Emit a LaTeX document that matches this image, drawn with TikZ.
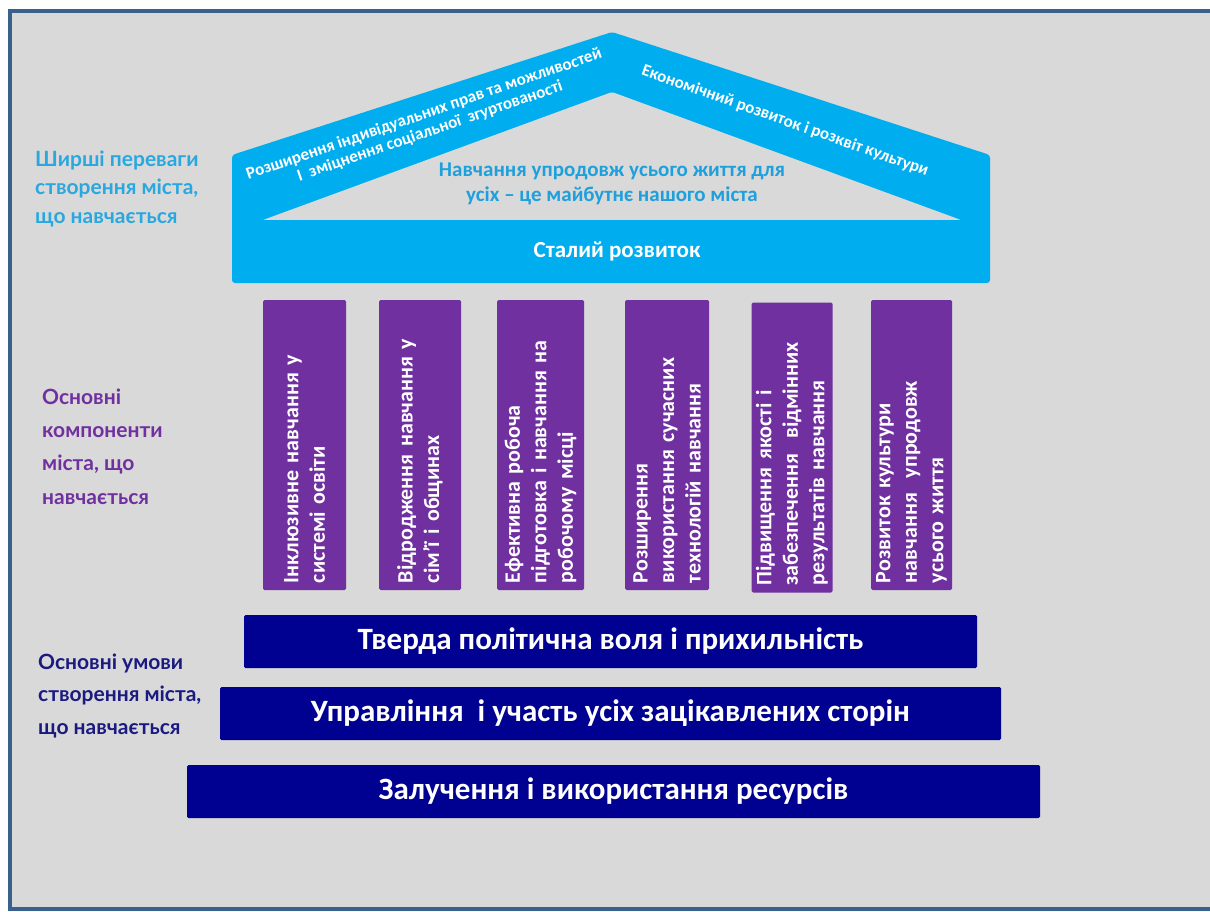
\documentclass[tikz,border=0pt]{standalone}
\usepackage{fontspec}
\setmainfont{Carlito}
\newfontfamily\labfont{Lato}
\definecolor{bggrey}{RGB}{217,217,217}
\definecolor{frameblue}{RGB}{58,96,140}
\definecolor{roofblue}{RGB}{0,174,239}
\definecolor{innerblue}{RGB}{30,160,220}
\definecolor{labblue}{RGB}{41,168,224}
\definecolor{colpurple}{RGB}{112,48,160}
\definecolor{barnavy}{RGB}{0,0,145}
\definecolor{labnavy}{RGB}{26,26,128}
\protected\def\colfontx{\bfseries\fontsize{22}{26.5}\selectfont\spaceskip=0.22em\relax}
\tikzset{
  lab/.style={font=\labfont\bfseries\fontsize{21}{29}\selectfont, align=left, anchor=base west, inner sep=0pt},
  colbox/.style={fill=colpurple, rounded corners=1.5pt, rotate=90, text=white,
     font=\colfontx, align=left, text width=276pt,
     inner xsep=7pt, inner ysep=0pt, minimum width=290pt},
  bar/.style={fill=barnavy, rounded corners=1.5pt, text=white, inner sep=0pt,
     font=\bfseries\fontsize{31}{34}\selectfont},
  rooftxt/.style={text=white, font=\bfseries\fontsize{17}{18}\selectfont, align=center, inner sep=0pt}
}
\begin{document}
\begin{tikzpicture}[x=1pt,y=-1pt]
\useasboundingbox (0,0) rectangle (1210,912);
\fill[white] (0,0) rectangle (1210,912);
\draw[line width=3.5pt, draw=frameblue, fill=bggrey] (10,11) rectangle (1260,909);
% roof
\fill[roofblue, rounded corners=3pt] (232,283) -- (232,155) -- (612,32) -- (990,155) -- (990,283) -- cycle;
\fill[bggrey, rounded corners=2pt] (263,220) -- (612,92) -- (961,220) -- cycle;
\node[rooftxt, rotate=19] (rightsL) at (427,123) {Розширення індивідуальних прав та можливостей\\І~~зміцнення соціальної~~згуртованості};
\node[rooftxt, rotate=-19.5] (econ) at (785,121) {Економічний розвиток і розквіт культури};
\node[text=innerblue, font=\bfseries\fontsize{21}{25}\selectfont, align=center, inner sep=0pt] (motto) at (612,184) {Навчання упродовж усього життя для\\усіх – це майбутнє нашого міста};
\node[text=white, font=\bfseries\fontsize{23}{26}\selectfont, inner sep=0pt] (sustain) at (617,251) {Сталий розвиток};
% left labels (anchor is baseline of the last line)
\node[lab, text=labblue] (benefits) at (35,224) {Ширші переваги\\створення міста,\\що навчається};
\node[lab, text=colpurple, font=\labfont\bfseries\fontsize{21}{33.3}\selectfont] (components) at (42,504) {Основні\\компоненти\\міста, що\\навчається};
\node[lab, text=labnavy, font=\labfont\bfseries\fontsize{21}{32.5}\selectfont] (conditions) at (38,734) {Основні умови\\створення міста,\\що навчається};
% columns
\node[colbox, minimum height=83pt] (c1) at (304.5,445) {Інклюзивне навчання у\\системі освіти};
\node[colbox, minimum height=82pt] (c2) at (420,445) {Відродження навчання у\\сім’ї і общинах};
\node[colbox, minimum height=87pt] (c3) at (540.5,445) {Ефективна робоча\\підготовка і навчання на\\робочому місці};
\node[colbox, minimum height=84pt] (c4) at (667,445) {Розширення\\використання сучасних\\технологій навчання};
\node[colbox, minimum height=81pt] (c5) at (792,447.5) {Підвищення якості і\\забезпечення~~відмінних\\результатів навчання};
\node[colbox, minimum height=81pt] (c6) at (911.5,445) {Розвиток культури\\навчання~~упродовж\\усього життя};
% bars
\node[bar, minimum width=733pt, minimum height=53pt] (b1) at (610.5,641.5) {Тверда політична воля і прихильність};
\node[bar, minimum width=781pt, minimum height=53pt] (b2) at (610.5,713.5) {Управління~~і участь усіх зацікавлених сторін};
\node[bar, minimum width=853pt, minimum height=53pt] (b3) at (613.5,791.5) {Залучення і використання ресурсів};
\end{tikzpicture}
\end{document}
